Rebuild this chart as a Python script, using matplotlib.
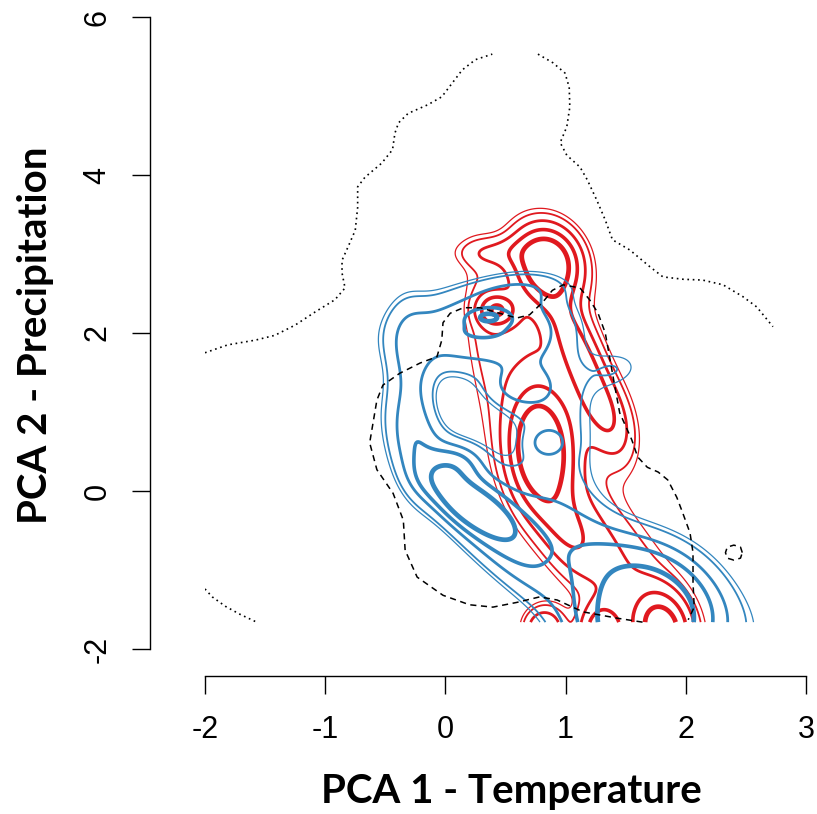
import numpy as np
import matplotlib
matplotlib.use("Agg")
import matplotlib.pyplot as plt

# ---------------- axes / ticks ----------------
x_ticks = [-2, -1, 0, 1, 2, 3]
y_ticks = [-2, 0, 2, 4, 6]
x_label = "PCA 1 - Temperature"
y_label = "PCA 2 - Precipitation"

# ---------------- background niche (dotted) ----------------
dotted_top_x = [-2.0, -1.81, -1.58, -1.42, -1.25, -1.08, -0.92, -0.835, -0.86, -0.86, -0.81, -0.75,
                -0.73, -0.73, -0.67, -0.53, -0.44, -0.42, -0.39, -0.31, -0.145, -0.03, 0.055, 0.14,
                0.25, 0.39]
dotted_top_y = [1.75, 1.85, 1.91, 1.97, 2.10, 2.27, 2.42, 2.57, 2.76, 2.92, 3.09, 3.30,
                3.59, 3.85, 3.97, 4.15, 4.32, 4.53, 4.66, 4.78, 4.89, 4.99, 5.16, 5.33,
                5.46, 5.53]
dotted_right_x = [0.77, 0.895, 0.995, 1.03, 1.035, 1.01, 0.955, 1.01, 1.12, 1.18, 1.26, 1.33,
                  1.39, 1.535, 1.70, 1.81, 1.98, 2.14, 2.31, 2.475, 2.59, 2.725]
dotted_right_y = [5.53, 5.42, 5.29, 5.11, 4.86, 4.61, 4.41, 4.25, 4.10, 3.94, 3.68, 3.43,
                  3.18, 3.05, 2.84, 2.71, 2.68, 2.67, 2.61, 2.46, 2.33, 2.08]
dotted_low_x = [-2.0, -1.94, -1.83, -1.71, -1.57]
dotted_low_y = [-1.24, -1.34, -1.46, -1.56, -1.66]

# ---------------- occupied niche (dashed) ----------------
dashed_x = [1.64, 1.43, 1.145, 0.93, 0.785, 0.595, 0.395, 0.20, -0.02, -0.235, -0.335, -0.35,
            -0.435, -0.57, -0.63, -0.57, -0.52, -0.38, -0.21, -0.07, -0.03, -0.02, 0.04, 0.15,
            0.29, 0.45, 0.595, 0.70, 0.81, 0.89, 0.98, 1.12, 1.20, 1.27, 1.33, 1.37, 1.41, 1.45,
            1.55, 1.60, 1.68, 1.77, 1.85, 1.925, 1.975, 2.035, 2.06, 2.06, 2.07, 2.02]
dashed_y = [-1.66, -1.61, -1.53, -1.38, -1.34, -1.41, -1.47, -1.44, -1.32, -1.09, -0.75, -0.37,
            -0.03, 0.27, 0.61, 1.15, 1.34, 1.49, 1.62, 1.70, 1.91, 2.13, 2.25, 2.32,
            2.32, 2.25, 2.19, 2.23, 2.39, 2.54, 2.61, 2.57, 2.42, 2.25, 2.00, 1.66, 1.32, 0.99,
            0.65, 0.43, 0.30, 0.24, 0.14, -0.08, -0.28, -0.53, -0.78, -1.16, -1.47, -1.63]
dashed_dot_x = [2.47, 2.455, 2.40, 2.345, 2.33, 2.345, 2.40, 2.455, 2.47]
dashed_dot_y = [-0.78, -0.71, -0.685, -0.71, -0.78, -0.85, -0.875, -0.85, -0.78]

# ---------------- density components (centre, major/minor spread, angle, weight) ----------------
red_mx = [0.85, 0.43, 0.45, 1.12, 0.79, 0.80, 1.35, 1.40, 1.80, 1.30, 0.82, 1.00, 0.33]
red_my = [2.88, 2.29, 3.02, 1.70, 0.52, 1.50, 0.90, -0.90, -1.75, -1.80, -1.75, -0.50, 2.20]
red_s1 = [0.30, 0.13, 0.25, 0.60, 0.45, 1.10, 0.38, 0.90, 0.30, 0.25, 0.20, 0.40, 0.70]
red_s2 = [0.17, 0.10, 0.13, 0.11, 0.16, 0.38, 0.15, 0.30, 0.15, 0.12, 0.12, 0.15, 0.12]
red_ang = [95, 90, 0, -75, 92, 95, 100, -65, 95, 90, 90, 105, 95]
red_w = [1.0, 0.55, 0.18, 0.42, 1.0, 0.22, 0.24, 0.24, 0.8, 0.6, 0.4, 0.25, 0.09]
red_levels = [0.10, 0.14, 0.24, 0.42, 0.68]

blue_mx = [0.28, 0.90, -0.28, 1.20, 1.45, 0.22, 0.30, 0.05, 0.18, 0.36, 1.65, 0.85, 0.59, 0.60]
blue_my = [2.08, 1.00, 1.20, -0.80, 1.55, -0.20, -0.30, 0.30, 1.97, 2.20, -1.70, 0.61, 1.30, 2.55]
blue_s1 = [0.48, 1.00, 0.75, 1.10, 0.22, 0.30, 0.90, 0.20, 0.45, 0.09, 0.35, 0.10, 0.20, 0.30]
blue_s2 = [0.33, 0.30, 0.13, 0.35, 0.18, 0.13, 0.20, 0.15, 0.38, 0.06, 0.55, 0.12, 0.19, 0.15]
blue_ang = [10, 95, 92, -40, 60, -50, -62, 60, 10, 0, 0, 0, 0, 10]
blue_w = [0.20, 0.16, 0.20, 0.25, 0.10, 0.55, 0.30, 0.20, 0.14, 0.30, 0.85, 0.15, 0.15, 0.12]
blue_levels = [0.10, 0.125, 0.22, 0.34, 0.55]

level_widths = [0.9, 1.3, 2.0, 2.6, 3.4]
red_color = "#E0191F"
blue_color = "#3386BF"

grid_x = np.linspace(-2.0, 2.75, 480)
grid_y = np.linspace(-1.66, 5.55, 700)


def density(mx, my, s1, s2, ang, w):
    X, Y = np.meshgrid(grid_x, grid_y)
    Z = np.zeros_like(X)
    for a, b, p, q, t, k in zip(mx, my, s1, s2, ang, w):
        c, s = np.cos(np.radians(t)), np.sin(np.radians(t))
        dx, dy = X - a, Y - b
        u = (dx * c + dy * s) / p
        v = (-dx * s + dy * c) / q
        Z += k * np.exp(-0.5 * (u * u + v * v))
    return X, Y, Z


fig = plt.figure(figsize=(8.17, 8.14), dpi=100)
ax = fig.add_axes([205 / 817, 165 / 814, 601 / 817, 632 / 814])
ax.set_xlim(-2, 3)
ax.set_ylim(-2, 6)

Xr, Yr, Zr = density(red_mx, red_my, red_s1, red_s2, red_ang, red_w)
ax.contour(Xr, Yr, Zr, levels=red_levels, colors=red_color, linewidths=level_widths)
Xb, Yb, Zb = density(blue_mx, blue_my, blue_s1, blue_s2, blue_ang, blue_w)
ax.contour(Xb, Yb, Zb, levels=blue_levels, colors=blue_color, linewidths=level_widths)

ax.plot(dashed_x, dashed_y, color="black", lw=1.1, ls=(0, (4, 3)))
ax.plot(dashed_dot_x, dashed_dot_y, color="black", lw=1.1, ls=(0, (4, 3)))
ax.plot(dotted_top_x, dotted_top_y, color="black", lw=1.2, ls=(0, (1, 2.2)))
ax.plot(dotted_right_x, dotted_right_y, color="black", lw=1.2, ls=(0, (1, 2.2)))
ax.plot(dotted_low_x, dotted_low_y, color="black", lw=1.2, ls=(0, (1, 2.2)))

for s in ["top", "right"]:
    ax.spines[s].set_visible(False)
ax.spines["left"].set_position(("outward", 55 * 0.72))
ax.spines["bottom"].set_position(("outward", 27 * 0.72))
ax.spines["left"].set_bounds(-2, 6)
ax.spines["bottom"].set_bounds(-2, 3)
for s in ["left", "bottom"]:
    ax.spines[s].set_linewidth(1.0)
ax.set_xticks(x_ticks)
ax.set_yticks(y_ticks)
ax.set_xticklabels([str(t) for t in x_ticks])
ax.set_yticklabels([str(t) for t in y_ticks], rotation=90, va="center")
ax.tick_params(axis="both", length=13, width=1.0, labelsize=22, colors="black")
ax.tick_params(axis="x", pad=15)
ax.tick_params(axis="y", pad=14)
for lab in ax.get_xticklabels() + ax.get_yticklabels():
    lab.set_fontfamily("Liberation Sans")

fig.text(511 / 817, 1 - 803 / 814, x_label, ha="center", va="baseline",
         fontsize=29, fontweight="bold", family="Lato")
fig.text(47 / 817, 1 - 335 / 814, y_label, ha="center", va="baseline", rotation=90,
         rotation_mode="anchor", fontsize=29, fontweight="bold", family="Lato")

fig.savefig("out.png", dpi=100)
